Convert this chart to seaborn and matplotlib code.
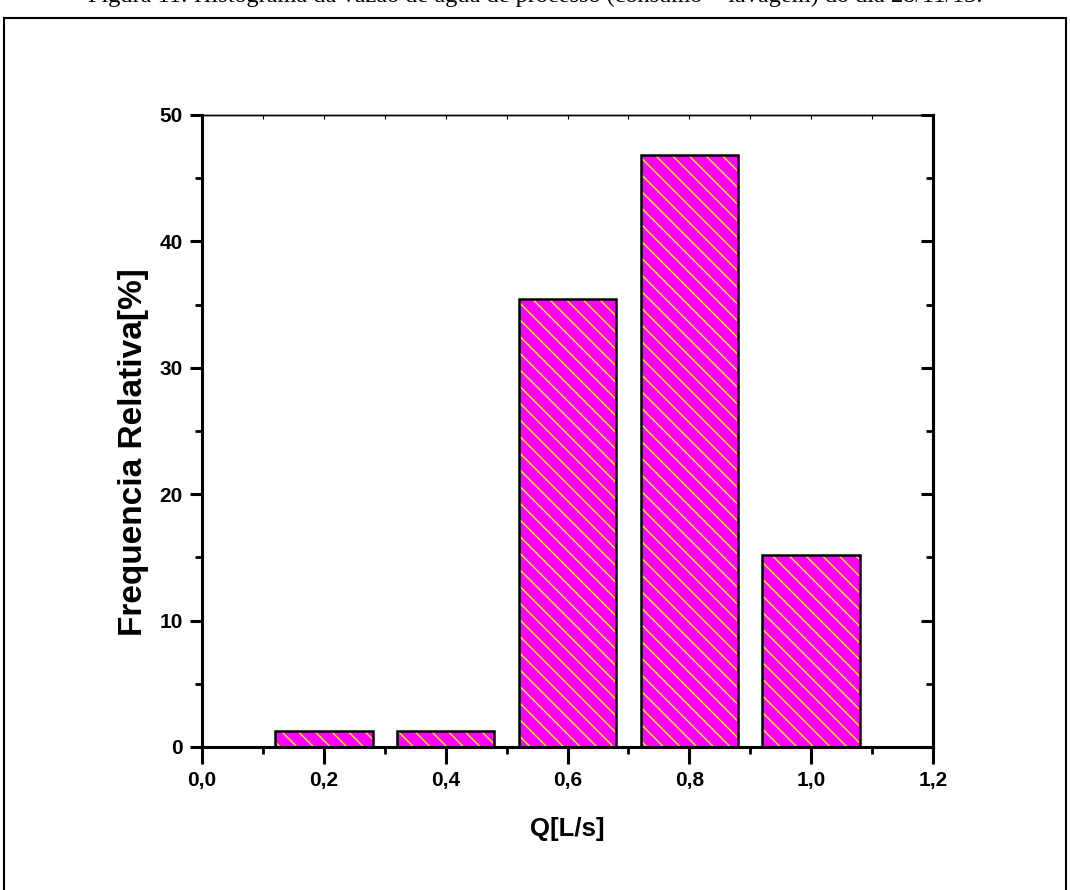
import numpy as np
import pandas as pd
import matplotlib
matplotlib.use("Agg")
import matplotlib.pyplot as plt
import seaborn as sns
from matplotlib.patches import Rectangle
from matplotlib.ticker import MultipleLocator, FuncFormatter

# dados do histograma
vazao = [0.2, 0.4, 0.6, 0.8, 1.0]
freq_rel = [1.25, 1.25, 35.45, 46.85, 15.15]
x_ticks = [0.0, 0.2, 0.4, 0.6, 0.8, 1.0, 1.2]
y_ticks = [0, 10, 20, 30, 40, 50]

df = pd.DataFrame({"Q": vazao, "freq": freq_rel})

sns.set_style("ticks", {"axes.edgecolor": "black", "text.color": "black",
                        "axes.labelcolor": "black", "xtick.color": "black",
                        "ytick.color": "black"})
plt.rcParams["font.family"] = ["Liberation Sans", "DejaVu Sans"]
plt.rcParams["hatch.linewidth"] = 1.0

fig = plt.figure(figsize=(10.7, 8.9), dpi=100)
ax = fig.add_axes([0.1888, 0.1607, 0.6832, 0.7101])

# barras com preenchimento magenta e hachura amarela
sns.barplot(data=df, x="Q", y="freq", native_scale=True, width=0.8,
            color="#ff00ff", saturation=1, ax=ax)
for p in ax.patches:
    p.set_facecolor("#ff00ff")
    p.set_edgecolor("#ffff00")
    p.set_hatch("\\\\")
    p.set_linewidth(0)
    # contorno preto por cima
    r = Rectangle(p.get_xy(), p.get_width(), p.get_height(), fill=False,
                  edgecolor="black", linewidth=1.8, zorder=3)
    ax.add_patch(r)

ax.set_xlim(0, 1.2)
ax.set_ylim(0, 50)
ax.set_xticks(x_ticks)
ax.set_yticks(y_ticks)
ax.xaxis.set_minor_locator(MultipleLocator(0.1))
ax.yaxis.set_minor_locator(MultipleLocator(5))
ax.xaxis.set_major_formatter(FuncFormatter(lambda v, _: f"{v:.1f}".replace(".", ",")))

for s in ["left", "bottom", "right"]:
    ax.spines[s].set_linewidth(2.2)
    ax.spines[s].set_visible(True)
ax.spines["top"].set_visible(True)
ax.spines["top"].set_linewidth(1.0)

ax.tick_params(axis="both", which="major", direction="out", length=9, width=2.2,
               labelsize=15, pad=5)
ax.tick_params(axis="both", which="minor", direction="out", length=5, width=2.0)
ax.tick_params(axis="x", which="major", length=12)

# eixo direito e superior com marcas para dentro
axr = ax.secondary_yaxis("right")
axr.set_yticks(y_ticks)
axr.yaxis.set_minor_locator(MultipleLocator(5))
axr.tick_params(which="major", direction="in", length=9, width=2.2, labelright=False)
axr.tick_params(which="minor", direction="in", length=5, width=2.0)
axr.spines["right"].set_linewidth(2.2)
axt = ax.secondary_xaxis("top")
axt.set_xticks(x_ticks)
axt.xaxis.set_minor_locator(MultipleLocator(0.1))
axt.tick_params(which="both", direction="in", length=3, width=0.8, labeltop=False)
axt.spines["top"].set_linewidth(1.0)

for lab in ax.get_xticklabels() + ax.get_yticklabels():
    lab.set_fontweight("bold")

ax.set_xlabel("Q[L/s]", fontsize=18.5, fontweight="bold", labelpad=20)
ax.set_ylabel("Frequencia Relativa[%]", fontsize=24, fontweight="bold")
ax.yaxis.set_label_coords(-0.072, 0.467)

# moldura da figura e legenda cortada no topo
fig.patches.append(Rectangle((0.004, -0.01), 0.992, 0.99, transform=fig.transFigure,
                             fill=False, edgecolor="black", linewidth=1.5))
fig.text(0.5, 1.004, "Figura 11: Histograma da vazão de água de processo (consumo + lavagem) do dia 28/11/13.",
         ha="center", va="center", fontsize=17.5, family=["Liberation Serif", "DejaVu Serif"])

fig.savefig("out.png", dpi=100)
